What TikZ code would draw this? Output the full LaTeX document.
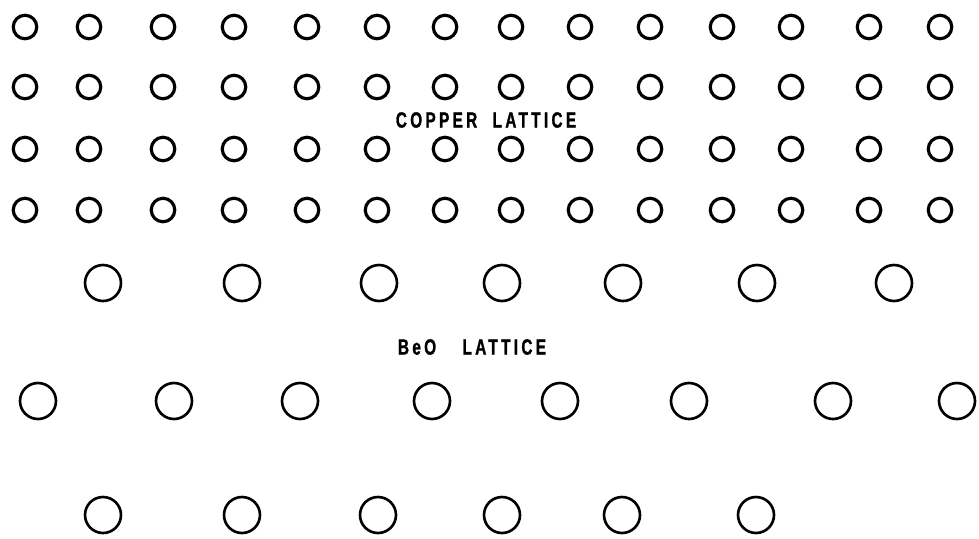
\documentclass[tikz,border=0pt]{standalone}
\usepackage{fontspec}
\usepackage{tikz}
\newfontfamily\latfont{Liberation Sans}[FakeStretch=0.7,LetterSpace=15,FakeBold=1.2]

\begin{document}
\begin{tikzpicture}[
    x=0.02cm, y=-0.02cm,
    cuatom/.style={circle, draw=black, line width=1.8pt, minimum size=0.47cm, inner sep=0pt},
    beoatom/.style={circle, draw=black, line width=1.5pt, minimum size=0.72cm, inner sep=0pt},
    latlabel/.style={font=\latfont\bfseries\fontsize{12.5}{14}\selectfont, inner sep=0pt},
]
\useasboundingbox (0,0) rectangle (979,538);

% ─── Copper lattice: 4 rows of 14 ───
\foreach \yy [count=\r] in {27, 87, 149, 210}
  \foreach \xx [count=\c] in {25, 89, 163, 234, 307, 377, 445, 511, 580, 650, 722, 791, 869, 940}
    \node[cuatom] (cu-\r-\c) at (\xx,\yy) {};

\node[latlabel] (culabel) at (486,120) {COPPER\hspace{0.7em}LATTICE};

% ─── BeO lattice ───
\foreach \xx [count=\c] in {103, 242, 379, 502, 623, 757, 894}
  \node[beoatom] (beo-1-\c) at (\xx,283) {};
\foreach \xx [count=\c] in {38, 174, 300, 432, 560, 689, 833, 957}
  \node[beoatom] (beo-2-\c) at (\xx,401) {};
\foreach \xx [count=\c] in {103, 242, 378, 502, 622, 756}
  \node[beoatom] (beo-3-\c) at (\xx,515) {};

\node[latlabel] (beolabel) at (472,347) {BeO\hspace{1.2em}LATTICE};

\end{tikzpicture}
\end{document}
